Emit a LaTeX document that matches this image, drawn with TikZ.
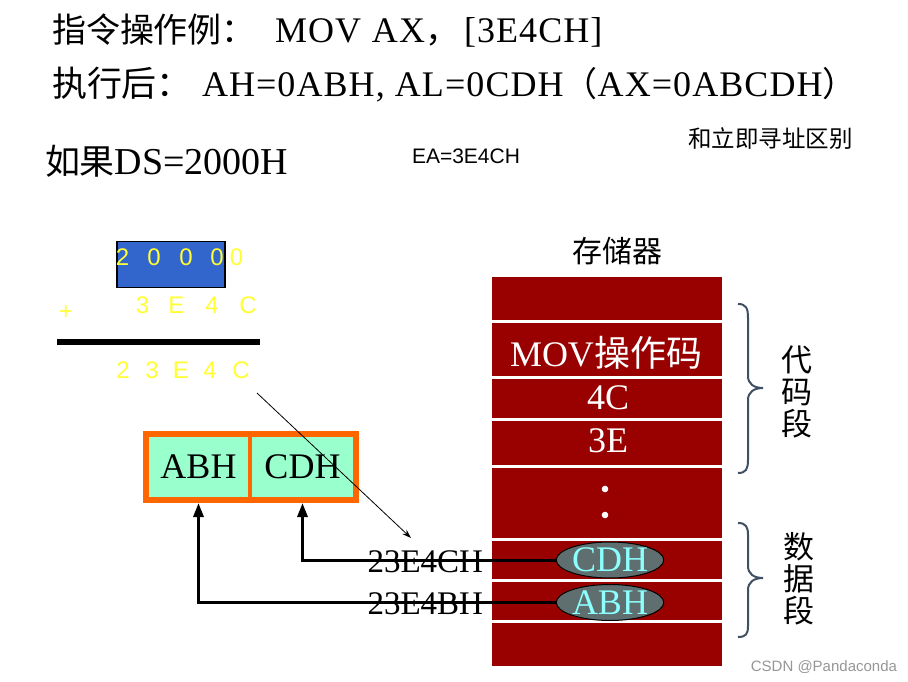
\documentclass[tikz,border=0pt]{standalone}
\usepackage{fontspec}
\setmainfont{Liberation Serif}
\newfontfamily\cjk{Noto Sans CJK SC}
\newfontfamily\arial{Liberation Sans}
\newfontfamily\trk{Liberation Serif}[LetterSpace=3]
\usetikzlibrary{arrows.meta,shapes.geometric}
\definecolor{memred}{RGB}{153,0,0}
\definecolor{ylw}{RGB}{255,255,51}
\definecolor{bluebox}{RGB}{51,102,204}
\definecolor{regor}{RGB}{255,102,0}
\definecolor{reggr}{RGB}{153,255,204}
\definecolor{ellg}{RGB}{95,110,110}
\definecolor{ellt}{RGB}{140,255,255}
\definecolor{brc}{RGB}{64,80,100}
\definecolor{wmk}{RGB}{150,150,150}
\newcommand{\fs}[1]{\fontsize{#1}{#1}\selectfont}
\tikzset{
  txt/.style={inner sep=0pt, outer sep=0pt},
  dig/.style={txt, text=ylw, font=\arial\fs{24}, anchor=base},
  memtxt/.style={txt, text=white, font=\fs{36}},
  cell/.style={txt, fill=reggr, minimum height=60pt, font=\fs{36}},
  addr/.style={txt, anchor=base east, font=\fs{33}},
  memcell/.style={ellipse, draw=black, line width=1pt, fill=ellg, text=ellt, inner sep=0pt,
     minimum width=106pt, minimum height=36pt, font=\fs{36}},
  fetch/.style={line width=3pt, -{Triangle[length=14pt,width=10pt]}},
  bracestyle/.style={draw=brc, line width=2pt},
  sep/.style={white, line width=3pt},
  vert/.style={txt, align=center, font=\cjk\fontsize{31}{32}\selectfont},
}
\begin{document}
\begin{tikzpicture}[x=1pt,y=-1pt]
\useasboundingbox (0,0) rectangle (908,682);
% title lines
\node[txt, anchor=base west, font=\cjk\fs{34}] (t1a) at (52,43) {指令操作例：};
\node[txt, anchor=base west, font=\trk\fs{36}] (t1b) at (275,43) {MOV\hspace{0.3em}AX{\cjk\fs{34}，}\hspace{5pt}[3E4CH]};
\node[txt, anchor=base west, font=\cjk\fs{35}] (t2a) at (52,97) {执行后：};
\node[txt, anchor=base west, font=\trk\fs{36}] (t2b) at (202,97) {AH=0ABH, AL=0CDH{\cjk\fs{34}（}AX=0ABCDH{\cjk\fs{34}）}};
\node[txt, anchor=base west, font=\fs{38}] (ds) at (45,175) {{\cjk\fs{35}如果}DS=2000H};
\node[txt, anchor=base west, font=\arial\fs{21}] (ea) at (412,164) {EA=3E4CH};
\node[txt, anchor=base west, font=\cjk\fs{23.5}] (diff) at (688,148) {和立即寻址区别};
% addition
\node[draw=black, line width=1.2pt, fill=bluebox, minimum width=108pt, minimum height=46pt, inner sep=0pt] (dsbox) at (171,264.5) {};
\node[dig] (a1) at (122.5,265) {2};
\node[dig] (a2) at (154,265) {0};
\node[dig] (a3) at (186,265) {0};
\node[dig] (a4) at (217,265) {0};
\node[dig] (a5) at (236.5,265) {0};
\node[dig] (plus) at (66,319) {+};
\node[dig] (b1) at (142.5,313) {3};
\node[dig] (b2) at (176.5,313) {E};
\node[dig] (b3) at (212,313) {4};
\node[dig] (b4) at (248,313) {C};
\draw[line width=6pt] (57,342) -- (260,342);
\node[dig] (c1) at (123,378) {2};
\node[dig] (c2) at (152,378) {3};
\node[dig] (c3) at (181,378) {E};
\node[dig] (c4) at (210,378) {4};
\node[dig] (c5) at (241,378) {C};
% register AX
\fill[regor] (143,431) rectangle (359,503);
\node[cell, minimum width=99pt] (ah) at (198.5,467) {ABH};
\node[cell, minimum width=101pt] (al) at (302.5,467) {CDH};
% memory
\node[txt, font=\cjk\fs{30}] (memtitle) at (617,251) {存储器};
\fill[memred] (492,277) rectangle (722,666);
\foreach \yy in {321.5,377,419,466.5,539,580.5,621}
  \draw[sep] (492,\yy) -- (722,\yy);
\node[memtxt] (mov) at (606,353) {MOV{\cjk\fs{36}操作码}};
\node[memtxt] (m4c) at (608,398) {4C};
\node[memtxt] (m3e) at (608,441) {3E};
\fill[white] (605,489) circle (3.3);
\fill[white] (605,515) circle (3.3);
\node[memcell] (ecdh) at (610,560) {CDH};
\node[memcell] (eabh) at (610,602.5) {ABH};
% addresses
\node[addr] (adc) at (483,572) {23E4CH};
\node[addr] (adb) at (483,614) {23E4BH};
\draw[fetch] (ecdh.west) -| ([yshift=-6pt]al.south);
\draw[fetch] (eabh.west) -| ([yshift=-6pt]ah.south);
\coordinate (ptrs) at (257,393);
\coordinate (ptre) at (411,538);
\draw[line width=0.8pt, -{Stealth[length=9pt,width=6pt]}] (ptrs) -- (ptre);
% braces
\draw[bracestyle] (738,304) .. controls (746,304) and (748,308) .. (748,318) -- (748,376)
  .. controls (748,384) and (754,388) .. (763,388) .. controls (754,388) and (748,392) .. (748,400)
  -- (748,460) .. controls (748,469) and (746,473) .. (738,473);
\draw[bracestyle] (738,523) .. controls (746,523) and (748,527) .. (748,535) -- (748,566)
  .. controls (748,574) and (754,578) .. (763,578) .. controls (754,578) and (748,582) .. (748,590)
  -- (748,626) .. controls (748,634) and (746,637) .. (738,637);
\node[vert] (code) at (797,392) {代\\码\\段};
\node[vert] (data) at (799,579) {数\\据\\段};
\node[txt, anchor=east, text=wmk, font=\arial\fs{15}] (wm) at (897,667) {CSDN @Pandaconda};
\end{tikzpicture}
\end{document}
